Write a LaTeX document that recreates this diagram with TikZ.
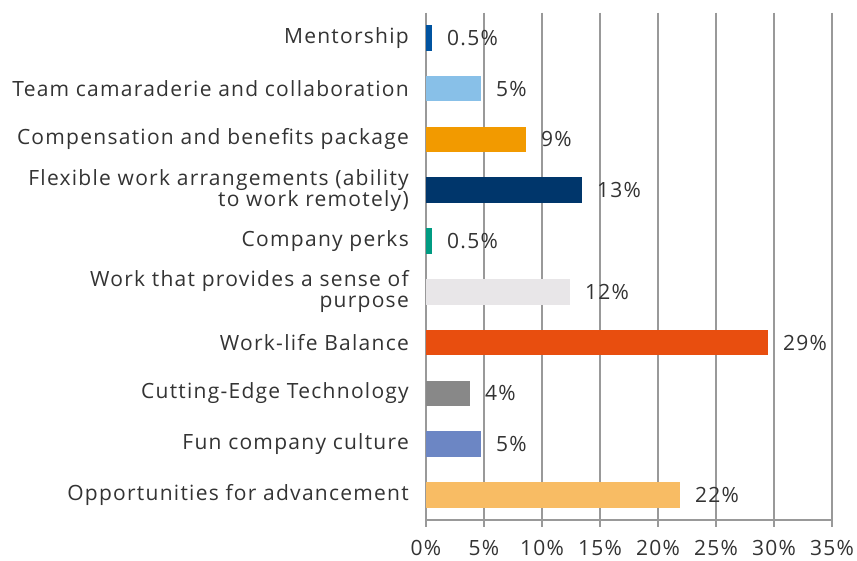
\documentclass[tikz,border=0pt]{standalone}
\usepackage{fontspec}
\setmainfont{Open Sans}[LetterSpace=6]
\definecolor{txt}{HTML}{333333}
\definecolor{grid}{HTML}{999999}
\definecolor{cMent}{HTML}{0053A0}
\definecolor{cTeam}{HTML}{88C0E8}
\definecolor{cComp}{HTML}{F29A00}
\definecolor{cFlex}{HTML}{00366B}
\definecolor{cPerk}{HTML}{009B82}
\definecolor{cPurp}{HTML}{E8E6E8}
\definecolor{cWork}{HTML}{E84E0F}
\definecolor{cTech}{HTML}{888888}
\definecolor{cFun}{HTML}{6C86C4}
\definecolor{cOpp}{HTML}{F8BC64}
\begin{document}
\begin{tikzpicture}[x=1pt,y=-1pt,
  catlabel/.style={anchor=east,align=right,text=txt,inner sep=0pt,font=\fontsize{21}{21}\selectfont},
  vallabel/.style={anchor=west,text=txt,inner sep=0pt,font=\fontsize{21}{21}\selectfont},
  ticklabel/.style={anchor=center,text=txt,inner sep=0pt,font=\fontsize{21}{21}\selectfont},
  gridline/.style={draw=grid,line width=1.4pt}]
\useasboundingbox (0,0) rectangle (857,561);
% grid
\foreach \i in {0,...,7}{
  \coordinate (gt\i) at (426+58*\i,12.7);
  \coordinate (gb\i) at (426+58*\i,527);
  \draw[gridline] (gt\i) -- (gb\i);
  \pgfmathtruncatemacro{\pc}{5*\i}
  \node[ticklabel] (tick\i) at (426+58*\i,548) {\pc\%};
}
\coordinate (axl) at (426,520);
\coordinate (axr) at (832,520);
\draw[gridline] (axl) -- (axr);
% bars
\foreach \k/\e/\c/\v/\t in {
  0/432/cMent/0.5\%/Mentorship,
  1/481/cTeam/5\%/Team camaraderie and collaboration,
  2/526/cComp/9\%/Compensation and benefits package,
  3/582/cFlex/13\%/{Flexible work arrangements (ability\\to work remotely)},
  4/432/cPerk/0.5\%/Company perks,
  5/570/cPurp/12\%/{Work that provides a sense of\\purpose},
  6/768/cWork/29\%/Work-life Balance,
  7/470/cTech/4\%/Cutting-Edge Technology,
  8/481/cFun/5\%/Fun company culture,
  9/680/cOpp/22\%/Opportunities for advancement}{
  \pgfmathsetmacro{\yc}{37.8+50.8*\k}
  \fill[\c] (426,\yc-12.8) rectangle (\e,\yc+12.8);
  \node[catlabel] (cat\k) at (409,\yc) {\t};
  \node[vallabel] (val\k) at (\e+15,\yc) {\v};
}
\end{tikzpicture}
\end{document}
